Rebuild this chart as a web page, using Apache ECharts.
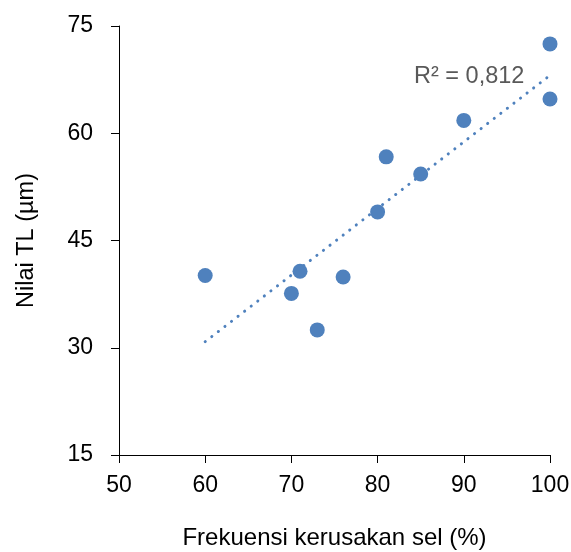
<!DOCTYPE html>
<html>
<head>
<meta charset="utf-8">
<script src="https://cdn.jsdelivr.net/npm/echarts@6/dist/echarts.min.js"></script>
<style>
  html, body { margin: 0; padding: 0; background: #fff; }
  #chart { width: 571px; height: 552px; }
</style>
</head>
<body>
<div id="chart"></div>
<script>
// data
const frekuensi = [60, 70, 71, 73, 76, 80, 81, 85, 90, 100, 100];
const nilaiTL = [40.1, 37.6, 40.7, 32.5, 39.9, 49.0, 56.7, 54.3, 61.8, 72.5, 64.8];
// trendline end points (linear fit shown in the chart)
const trendX = [60, 100];
const trendY = [30.85, 68.1];
const r2Label = 'R² = 0,812';

const points = frekuensi.map((x, i) => [x, nilaiTL[i]]);
const trend = trendX.map((x, i) => [x, trendY[i]]);

const chart = echarts.init(document.getElementById('chart'));
const font = 'Arial, "Liberation Sans", sans-serif';

chart.setOption({
  animation: false,
  grid: { left: 119, right: 21, top: 26, bottom: 97, outerBoundsMode: 'none', containLabel: false },
  xAxis: {
    type: 'value',
    min: 50, max: 100, interval: 10,
    name: 'Frekuensi kerusakan sel (%)',
    nameLocation: 'middle',
    nameGap: 71,
    nameTextStyle: { fontFamily: font, fontSize: 24, color: '#000' },
    axisLine: { lineStyle: { color: '#000', width: 1 } },
    axisTick: { show: true, inside: false, length: 8, lineStyle: { color: '#000' } },
    axisLabel: { fontFamily: font, fontSize: 23, color: '#000', margin: 19 },
    splitLine: { show: false }
  },
  yAxis: {
    type: 'value',
    min: 15, max: 75, interval: 15,
    name: 'Nilai TL (µm)',
    nameLocation: 'middle',
    nameGap: 80,
    nameTextStyle: { fontFamily: font, fontSize: 23.5, color: '#000' },
    axisLine: { show: true, lineStyle: { color: '#000', width: 1 } },
    axisTick: { show: true, inside: false, length: 8, lineStyle: { color: '#000' } },
    axisLabel: { fontFamily: font, fontSize: 23, color: '#000', margin: 26 },
    splitLine: { show: false }
  },
  graphic: [{
    type: 'text',
    left: 414,
    top: 65,
    style: { text: r2Label, fontFamily: font, fontSize: 23.5, fill: '#595959' }
  }],
  series: [
    {
      type: 'line',
      data: trend,
      symbol: 'none',
      lineStyle: { color: '#4F81BD', width: 3, type: [0.1, 8.2], cap: 'round' },
      z: 2
    },
    {
      type: 'scatter',
      data: points,
      symbolSize: 15,
      itemStyle: { color: '#4F81BD', opacity: 1 },
      clip: false,
      z: 3
    }
  ]
});
</script>
</body>
</html>
